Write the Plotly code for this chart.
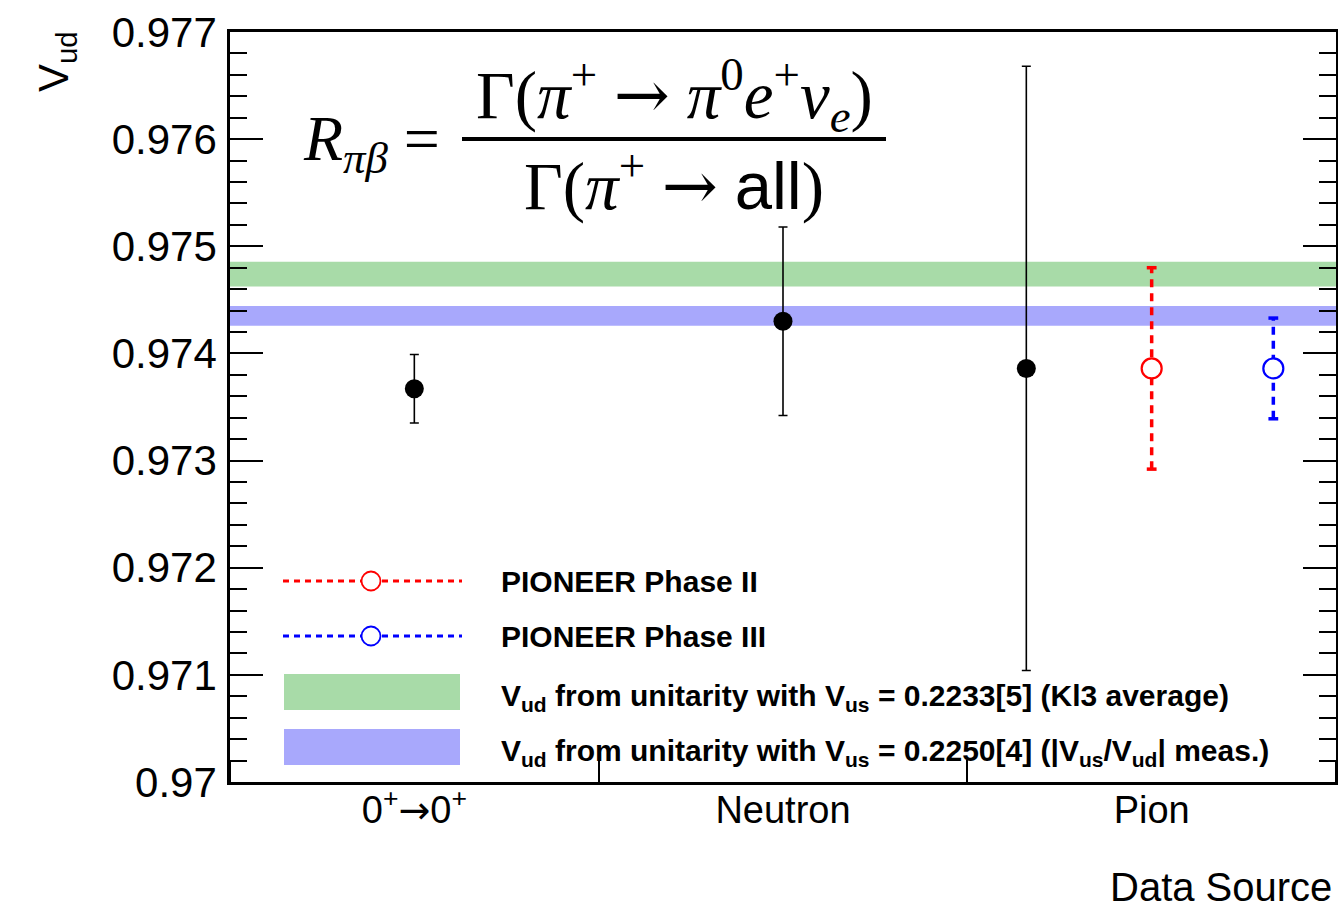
import plotly.graph_objects as go

# ---------------- data ----------------
categories = ["0<sup>+</sup><span style=\"font-family:'DejaVu Sans'\">→</span>0<sup>+</sup>", "Neutron", "Pion"]
cat_pos = [0.5, 1.5, 2.5]

meas_x = [0.5, 1.5, 2.16]
meas_vud = [0.97367, 0.97430, 0.97386]
meas_err = [0.00032, 0.00088, 0.00282]

phase2_x = [2.5]
phase2_vud = [0.97386]
phase2_err = [0.00094]

phase3_x = [2.83]
phase3_vud = [0.97386]
phase3_err = [0.00047]

band_kl3 = [0.97474, 0.000115]    # centre, half-width
band_ratio = [0.97435, 0.000092]  # centre, half-width

y_ticks = [0.970, 0.971, 0.972, 0.973, 0.974, 0.975, 0.976, 0.977]
y_ticktext = ["0.97", "0.971", "0.972", "0.973", "0.974", "0.975", "0.976", "0.977"]

legend_labels = [
    "PIONEER Phase II",
    "PIONEER Phase III",
    "V<sub>ud</sub> from unitarity with V<sub>us</sub> = 0.2233[5] (Kl3 average)",
    "V<sub>ud</sub> from unitarity with V<sub>us</sub> = 0.2250[4] (|V<sub>us</sub>/V<sub>ud</sub>| meas.)",
]

RED = "#ff0000"
BLUE = "#0000ff"
GREEN = "rgba(110,195,110,0.6)"
VIOLET = "rgba(110,110,250,0.6)"

SANS = "Liberation Sans"
SERIF = "Liberation Serif"
ARROW = "<span style=\"font-family:'DejaVu Serif'\">→</span>"

fig = go.Figure()

# bands
for (c, h), col in [(band_kl3, GREEN), (band_ratio, VIOLET)]:
    fig.add_shape(type="rect", xref="x domain", yref="y", x0=0, x1=1,
                  y0=c - h, y1=c + h, fillcolor=col, line_width=0, layer="below")

# black measurements
fig.add_trace(go.Scatter(
    x=meas_x, y=meas_vud, mode="markers",
    marker=dict(symbol="circle", size=19, color="black"),
    error_y=dict(type="data", array=meas_err, color="black", thickness=1.6, width=4.5),
    showlegend=False))

# dashed error bars for projections
def dashed_err(xs, ys, es, col):
    for x, y, e in zip(xs, ys, es):
        fig.add_trace(go.Scatter(
            x=[x, x], y=[y - e, y + e], mode="lines+markers",
            line=dict(color=col, width=3.5, dash="8px,6px"),
            marker=dict(symbol="line-ew", size=7, line=dict(color=col, width=3.5)),
            showlegend=False))
        fig.add_trace(go.Scatter(
            x=[x], y=[y], mode="markers",
            marker=dict(symbol="circle", size=20, color="white",
                        line=dict(color=col, width=2.2)),
            showlegend=False))

dashed_err(phase2_x, phase2_vud, phase2_err, RED)
dashed_err(phase3_x, phase3_vud, phase3_err, BLUE)

# right-hand mirrored ticks axis helper trace
fig.add_trace(go.Scatter(x=[None], y=[None], yaxis="y2", showlegend=False))

# ---------------- manual legend ----------------
def px(x):
    return (x - 230) / 1106

def py(y):
    return (782 - y) / 750

leg_y = [581, 636, 692, 747]
for yy, col in zip(leg_y[:2], [RED, BLUE]):
    fig.add_shape(type="line", xref="paper", yref="paper",
                  x0=px(283), x1=px(462), y0=py(yy), y1=py(yy),
                  line=dict(color=col, width=3, dash="6px,5px"))
    fig.add_shape(type="circle", xref="paper", yref="paper",
                  xsizemode="pixel", ysizemode="pixel",
                  xanchor=px(371), yanchor=py(yy), x0=-9.5, x1=9.5, y0=-9.5, y1=9.5,
                  fillcolor="white", line=dict(color=col, width=1.8))
for yy, col in zip(leg_y[2:], [GREEN, VIOLET]):
    fig.add_shape(type="rect", xref="paper", yref="paper",
                  x0=px(284), x1=px(460), y0=py(yy - 18), y1=py(yy + 18),
                  fillcolor=col, line_width=0)
for yy, lab in zip(leg_y, legend_labels):
    fig.add_annotation(xref="paper", yref="paper", x=px(499), y=py(yy + (5 if "sub" in lab else 0)),
                       text="<b>" + lab + "</b>", showarrow=False,
                       xanchor="left", yanchor="middle",
                       font=dict(family=SANS, size=30, color="black"))

# ---------------- formula ----------------
fig.add_annotation(xref="paper", yref="paper", x=px(442), y=py(143),
                   text="<i>R</i><sub><i>πβ</i></sub> =", showarrow=False,
                   xanchor="right", yanchor="middle",
                   font=dict(family=SERIF, size=64, color="black"))
fig.add_annotation(xref="paper", yref="paper", x=px(674), y=py(95),
                   text="Γ(<i>π</i><sup>+</sup> " + ARROW + " <i>π</i><sup>0</sup><i>e</i><sup>+</sup><i>ν</i><sub><i>e</i></sub>)",
                   showarrow=False, xanchor="center", yanchor="middle",
                   font=dict(family=SERIF, size=67, color="black"))
fig.add_shape(type="line", xref="paper", yref="paper",
              x0=px(462), x1=px(886), y0=py(139), y1=py(139),
              line=dict(color="black", width=4))
fig.add_annotation(xref="paper", yref="paper", x=px(674), y=py(182),
                   text="Γ(<i>π</i><sup>+</sup> " + ARROW + " <span style='font-family:Liberation Sans'>all</span>)",
                   showarrow=False, xanchor="center", yanchor="middle",
                   font=dict(family=SERIF, size=67, color="black"))

# ---------------- axis titles ----------------
fig.add_annotation(xref="paper", yref="paper", x=px(56), y=py(62),
                   text="V<sub>ud</sub>", textangle=-90, showarrow=False,
                   xanchor="center", yanchor="middle",
                   font=dict(family=SANS, size=42, color="black"))
fig.add_annotation(xref="paper", yref="paper", x=px(1334), y=py(887),
                   text="Data Source", showarrow=False,
                   xanchor="right", yanchor="middle",
                   font=dict(family=SANS, size=40, color="black"))

fig.update_layout(
    width=1338, height=908,
    margin=dict(l=230, r=2, t=32, b=126),
    paper_bgcolor="white", plot_bgcolor="white",
    showlegend=False,
    xaxis=dict(range=[0, 3], tickvals=cat_pos, ticktext=categories,
               ticks="", showgrid=False, zeroline=False,
               showline=True, mirror=True, linecolor="black", linewidth=2.5,
               tickfont=dict(family=SANS, size=38, color="black"),
               ticklabelstandoff=-7,
               minor=dict(tick0=0, dtick=1, ticks="inside", ticklen=22,
                          tickwidth=1.5, tickcolor="black", showgrid=False)),
    yaxis=dict(range=[0.970, 0.977], tickvals=y_ticks, ticktext=y_ticktext,
               ticks="inside", ticklen=33, tickwidth=1.8, tickcolor="black",
               showgrid=False, zeroline=False,
               showline=True, linecolor="black", linewidth=2.5,
               tickfont=dict(family=SANS, size=42, color="black"),
               ticklabelstandoff=2,
               minor=dict(dtick=0.0002, ticks="inside", ticklen=17,
                          tickwidth=1.8, tickcolor="black", showgrid=False)),
    yaxis2=dict(range=[0.970, 0.977], overlaying="y", side="right",
                tickvals=y_ticks, showticklabels=False,
                ticks="inside", ticklen=33, tickwidth=1.8, tickcolor="black",
                showgrid=False, zeroline=False, showline=True,
                linecolor="black", linewidth=2.5,
                minor=dict(dtick=0.0002, ticks="inside", ticklen=17,
                           tickwidth=1.8, tickcolor="black", showgrid=False)),
)

fig.write_html("out.html", config={"displayModeBar": False},
               post_script="document.body.style.margin='0';")
